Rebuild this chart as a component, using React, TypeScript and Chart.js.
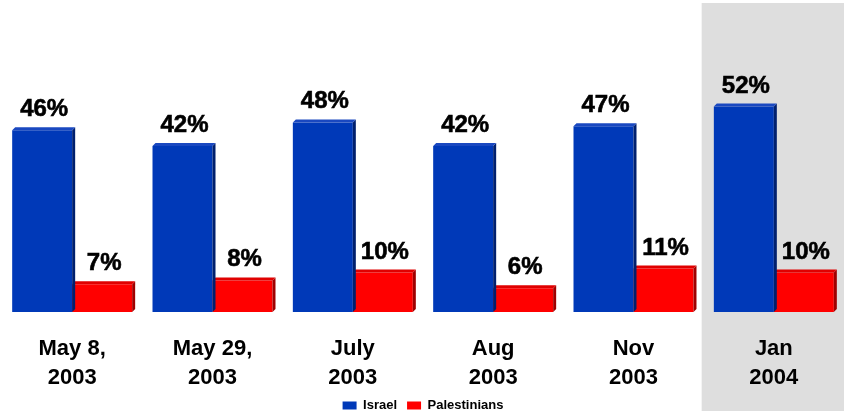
import React, { useEffect, useRef } from 'react';
import { Chart, registerables } from 'chart.js';

Chart.register(...registerables);

const categories: string[][] = [
  ['May 8,', '2003'],
  ['May 29,', '2003'],
  ['July', '2003'],
  ['Aug', '2003'],
  ['Nov', '2003'],
  ['Jan', '2004'],
];
const israel = [46, 42, 48, 42, 47, 52];
const palestinians = [7, 8, 10, 6, 11, 10];
const seriesNames = ['Israel', 'Palestinians'];
const highlightIndex = 5;

const FONT = "'Liberation Sans', Arial, Helvetica, sans-serif";
const faceColors = ['#0039b8', '#ff0000'];
const sideColors = ['#00206e', '#a00000'];
const topColors = ['#1a48c0', '#e00000'];
const DEPTH = 3;

const highlightPlugin = {
  id: 'highlight',
  beforeDraw(chart: any) {
    const xs = chart.scales.x;
    const ctx = chart.ctx;
    const half = xs.width / categories.length / 2;
    const left = xs.getPixelForValue(highlightIndex) - half - 2;
    ctx.save();
    ctx.fillStyle = '#dedede';
    ctx.fillRect(left, 3, chart.width - left, 408);
    ctx.restore();
  },
};

const depthPlugin = {
  id: 'depth',
  afterDatasetDraw(chart: any, args: any) {
    const i = args.index;
    const meta = args.meta;
    const ctx = chart.ctx;
    ctx.save();
    meta.data.forEach((el: any) => {
      const { x, y, base, width } = el.getProps(['x', 'y', 'base', 'width'], true);
      const l = x - width / 2;
      const r = x + width / 2;
      ctx.fillStyle = sideColors[i];
      ctx.beginPath();
      ctx.moveTo(r, y);
      ctx.lineTo(r + DEPTH, y - DEPTH);
      ctx.lineTo(r + DEPTH, base - DEPTH);
      ctx.lineTo(r, base);
      ctx.closePath();
      ctx.fill();
      ctx.fillStyle = topColors[i];
      ctx.beginPath();
      ctx.moveTo(l, y);
      ctx.lineTo(l + DEPTH, y - DEPTH);
      ctx.lineTo(r + DEPTH, y - DEPTH);
      ctx.lineTo(r, y);
      ctx.closePath();
      ctx.fill();
    });
    ctx.restore();
  },
};

const labelPlugin = {
  id: 'valueLabels',
  afterDatasetsDraw(chart: any) {
    const ctx = chart.ctx;
    ctx.save();
    ctx.fillStyle = '#000';
    ctx.strokeStyle = '#000';
    ctx.lineWidth = 0.6;
    ctx.font = `bold 24px ${FONT}`;
    ctx.textAlign = 'center';
    ctx.textBaseline = 'alphabetic';
    chart.data.datasets.forEach((ds: any, di: number) => {
      const meta = chart.getDatasetMeta(di);
      meta.data.forEach((el: any, j: number) => {
        const t = `${ds.data[j]}%`;
        ctx.fillText(t, el.x + 2, el.y - 14);
        ctx.strokeText(t, el.x + 2, el.y - 14);
      });
    });
    ctx.restore();
  },
};

export default function App() {
  const ref = useRef<HTMLCanvasElement>(null);

  useEffect(() => {
    if (!ref.current) return;
    Chart.defaults.font.family = FONT;
    const chart = new Chart(ref.current, {
      type: 'bar',
      data: {
        labels: categories as any,
        datasets: [
          {
            label: seriesNames[0],
            data: israel,
            backgroundColor: faceColors[0],
            borderWidth: 0,
          },
          {
            label: seriesNames[1],
            data: palestinians,
            backgroundColor: faceColors[1],
            borderWidth: 0,
          },
        ],
      },
      options: {
        animation: false,
        responsive: true,
        maintainAspectRatio: false,
        layout: { padding: { left: 2, right: 0, top: 75, bottom: 0 } },
        datasets: {
          bar: { categoryPercentage: 0.855, barPercentage: 1.0 },
        },
        scales: {
          x: {
            grid: { display: false, drawTicks: false },
            border: { display: false },
            ticks: {
              color: '#000',
              padding: 23,
              font: { size: 22, weight: 'bold', lineHeight: 1.3, family: FONT },
              maxRotation: 0,
              autoSkip: false,
            },
            afterFit(scale: any) {
              scale.height = 77;
            },
          },
          y: {
            display: false,
            min: 0,
            max: 60,
          },
        },
        plugins: {
          legend: {
            position: 'bottom',
            labels: {
              color: '#000',
              boxWidth: 14,
              boxHeight: 8,
              padding: 10,
              font: { size: 13, weight: 'bold', family: FONT },
            },
          },
          tooltip: { enabled: false },
        },
      },
      plugins: [highlightPlugin, depthPlugin, labelPlugin],
    });
    return () => chart.destroy();
  }, []);

  return (
    <div style={{ position: 'fixed', left: 0, top: 0, width: 844, height: 422, background: '#fff' }}>
      <canvas ref={ref} />
    </div>
  );
}
